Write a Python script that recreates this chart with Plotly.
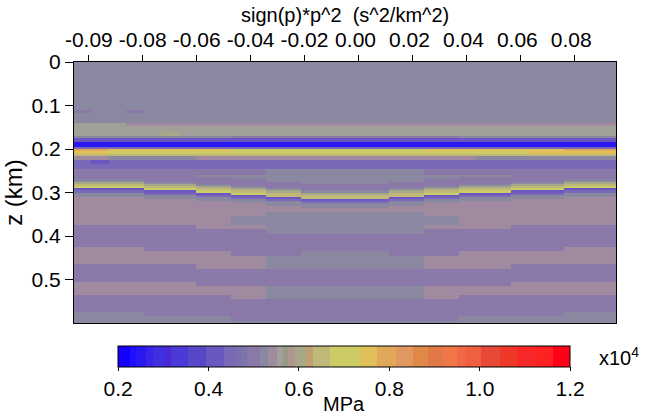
import plotly.graph_objects as go

# axes
x_ticks = [-0.10, -0.08, -0.06, -0.04, -0.02, 0.00, 0.02, 0.04, 0.06, 0.08]
x_labels = ["-0.09", "-0.08", "-0.06", "-0.04", "-0.02", "0.00", "0.02", "0.04", "0.06", "0.08"]
z_ticks = [0, 0.1, 0.2, 0.3, 0.4, 0.5]
z_labels = ["0", "0.1", "0.2", "0.3", "0.4", "0.5"]
cb_ticks = [0.2, 0.4, 0.6, 0.8, 1.0, 1.2]

# 31 traces, first trace centre and spacing on the p axis
trace_x0 = -0.10226
trace_dx = 0.006487

# amplitude levels (x10^4 MPa) used by the row codes below
levels = {
    "B": 0.24, "b": 0.43, "q": 0.455, "p": 0.495, "g": 0.515, "G": 0.525,
    "r": 0.54, "h": 0.56, "k": 0.60, "K": 0.645, "y": 0.70, "Y": 0.755, "o": 0.795,
}

# layer tops (km) and one code per trace for each layer
layer_tops = [
    0.000, 0.110, 0.118, 0.140, 0.147, 0.160, 0.170, 0.175, 0.184, 0.195,
    0.199, 0.205, 0.211, 0.215, 0.225, 0.235, 0.245,
    0.260, 0.265, 0.270, 0.275, 0.280, 0.285, 0.290, 0.295, 0.300, 0.305,
    0.310, 0.315, 0.320, 0.325, 0.330, 0.335, 0.340,
    0.345, 0.355, 0.365, 0.375, 0.385, 0.395, 0.405, 0.415, 0.425, 0.435,
    0.445, 0.455, 0.465, 0.475, 0.485, 0.495, 0.505, 0.515, 0.525, 0.535,
    0.545, 0.555, 0.565, 0.575, 0.585, 0.595,
]
z_bottom = 0.6

layer_rows = [
    "GGGG GGG GG GG GG GGGGG GG GG GGG GGG GGG",
    "pGGp GGG GG GG GG GGGGG GG GG GGG GGG GGG",
    "GGGG GGG GG GG GG GGGGG GG GG GGG GGG GGG",
    "hhhr rrr rr rr rr rrrrr rr rr rrr rrr rrr",
    "hhhh hhh hh hh hh hhhhh hh hh hhh hhh hhh",
    "hhhh hkh hh hh hh hhhhh hh hh hhh hhh hhh",
    "gggg ggg gg pp pp ppppp pp pp ggg ggg ggg",
    "bbbb bbb bb bb bb bbbbb bb bb bbb bbb bbb",
    "BBBB BBB BB BB BB BBBBB BB BB BBB BBB BBB",
    "qqqq qqq qq qq qq qqqqq qq qq qqq qqq qqq",
    "ooYY YYY YY yy yy yyyyy yy YY YYY YYY ooo",
    "YYyy yyy yy yy yy yyyyy yy yy yyy yYY YYY",
    "KKKK KKK KK KK KK KKKKK KK KK KKK KKK KKK",
    "rrgg ggg rr rr rr rrrrr rr rr rgg ggg ggg",
    "qbqq qqq qq qq qq qqqqq qq qq qqq qqq qqq",
    "qqqq qqq qq qq qq qqqqq qq qq qqq qqq qqq",
    "pppp ppp pp pp gg GGGGG gg pp ppp ppp ppp",
    "pppp ppp gg gg gg ggggg gg gg ggg ppp ppp",
    "pppp ppp pp gg gg ggggg gg gg ppp ppp ppp",
    "gggg ppp pp pp gg ggggg gg pp ppp ppp ggg",
    "kkkk ggg pp pp pp ggggg pp pp ppp ggg kkk",
    "KKKK kkk gg pp pp ppppp pp pp ggg kkk KKK",
    "yyyy KKK kk gg pp ppppp pp gg kkk KKK yyy",
    "bbbb yyy KK kk gg ppppp gg kk KKK yyy bbb",
    "qqqq bbb yy KK kk ggggg kk KK yyy bbb qqq",
    "gggg qqq bb yy KK kkkkk KK yy bbb qqq ggg",
    "gggg ggg qq bb KK KKKKK KK bb qqq ggg ggg",
    "rrrr ggg gg qq bb KKKKK bb qq ggg ggg rrr",
    "rrrr rrr gg gg qq bbbbb qq gg ggg rrr rrr",
    "rrrr rrr rr gg gg qqqqq gg gg rrr rrr rrr",
    "rrrr rrr rr rr gg ggggg gg rr rrr rrr rrr",
    "rrrr rrr rr rr rr ggggg rr rr rrr rrr rrr",
    "rrrr rrr rr rr rr rrrrr rr rr rrr rrr rrr",
    "rrrr rrr rr rr rr rrrrr rr rr rrr rrr rrr",
    "rrrr rrr rr rr GG GGGGG GG rr rrr rrr rrr",
    "rrrr rrr rr GG GG GGGGG GG GG rrr rrr rrr",
    "rrrr rrr rr GG GG GGGGG GG GG rrr rrr rrr",
    "pppp ppp rr rr GG GGGGG GG rr rrr ppp ppp",
    "pppp ppp pp pp GG GGGGG GG pp ppp ppp ppp",
    "pppp ppp pp pp pp ppppp pp pp ppp ppp ppp",
    "pppp ppp pp pp pp ppppp pp pp ppp ppp ppp",
    "pppp ppp pp pp pp ppppp pp pp ppp ppp ppp",
    "rrrr ppp pp pp pp ppppp pp pp ppp ppp rrr",
    "rrrr rrr rr pp pp GGGGG pp pp rrr rrr rrr",
    "rrrr rrr rr rr GG GGGGG GG rr rrr rrr rrr",
    "rrrr rrr rr rr GG GGGGG GG rr rrr rrr rrr",
    "pppp ppp rr rr GG GGGGG GG rr rrr ppp ppp",
    "pppp ppp pp pp pp ppppp pp pp ppp ppp ppp",
    "pppp ppp pp pp pp ppppp pp pp ppp ppp ppp",
    "pppp ppp pp pp pp ppppp pp pp ppp ppp ppp",
    "rrrr rrr pp pp pp ppppp pp pp ppp rrr rrr",
    "rrrr rrr rr rr GG GGGGG GG rr rrr rrr rrr",
    "rrrr rrr rr rr GG GGGGG GG rr rrr rrr rrr",
    "pppp ppp pp rr GG GGGGG GG rr ppp ppp ppp",
    "pppp ppp pp pp pp ppppp pp pp ppp ppp ppp",
    "pppp ppp pp pp pp ppppp pp pp ppp ppp ppp",
    "pppp ppp pp pp pp ppppp pp pp ppp ppp ppp",
    "gggg ppp pp pp pp ppppp pp pp ppp ppp ggg",
    "GGGG GGG GG pp pp ppppp pp pp GGG GGG GGG",
    "GGGG GGG GG GG GG GGGGG GG GG GGG GGG GGG",
]

# blocky colour table (start fraction, colour)
cb_starts = [0.000, 0.026, 0.039, 0.061, 0.077, 0.103, 0.117, 0.155, 0.194, 0.234,
             0.258, 0.275, 0.286, 0.314, 0.332, 0.351, 0.364, 0.376, 0.391, 0.417,
             0.432, 0.469, 0.535, 0.572, 0.616, 0.653, 0.686, 0.719, 0.749, 0.767,
             0.804, 0.845, 0.882, 0.926, 0.963]
cb_colors = ["#1400ff", "#1e10ff", "#2a18f0", "#3a22e6", "#3c30e0", "#4a28d8", "#4a3ad8",
             "#5848c8", "#6a58c0", "#7a68b8", "#7a70b0", "#7878a8", "#8a78a8", "#8a88a0",
             "#a08aa0", "#a0a098", "#989888", "#b09890", "#a8a888", "#c0a070", "#c0b878",
             "#cccc66", "#e0c058", "#e0a858", "#e09860", "#e08848", "#e07848", "#f07848",
             "#f06848", "#f06040", "#e84838", "#f03828", "#f82828", "#ff2020", "#ff0018"]

colorscale = []
for i, c in enumerate(cb_colors):
    hi = cb_starts[i + 1] if i + 1 < len(cb_starts) else 1.0
    colorscale += [[cb_starts[i], c], [hi, c]]

z = [[levels[ch] for ch in row.replace(" ", "")] for row in layer_rows]
z_edges = layer_tops + [z_bottom]

# positive labels sit a little left of their ticks in the original
x_text = [t if t.startswith("-") else t + "\u00a0" for t in x_labels]

FONT = "Liberation Sans, Arial, sans-serif"
FS = 20
TFS = 21

fig = go.Figure(go.Heatmap(
    z=z, x0=trace_x0, dx=trace_dx, y=z_edges,
    zmin=0.2, zmax=1.2, colorscale=colorscale,
    colorbar=dict(
        orientation="h", x=0.4985, xanchor="center", y=-0.087, yanchor="top",
        len=452, lenmode="pixels", thickness=21, thicknessmode="pixels",
        xpad=0, ypad=0, outlinewidth=1, outlinecolor="black",
        ticks="outside", ticklen=4, tickcolor="black",
        tickvals=cb_ticks, tickformat=".1f", tickangle=0,
        tickfont=dict(size=TFS, color="black"),
    ),
    hoverinfo="skip",
))

fig.add_annotation(
    x=0.4985, y=-0.31, xref="paper", yref="paper", xanchor="center", yanchor="middle",
    text="MPa", showarrow=False, font=dict(size=FS, color="black"),
)
fig.add_annotation(
    x=0.965, y=-0.128, xref="paper", yref="paper", xanchor="left", yanchor="middle",
    text="x10<sup>4</sup>", showarrow=False, font=dict(size=FS, color="black"),
)
fig.add_annotation(
    x=0.5, y=1.18, xref="paper", yref="paper", xanchor="center", yanchor="middle",
    text="sign(p)*p^2  (s^2/km^2)", showarrow=False, font=dict(size=FS, color="black"),
)

fig.update_layout(
    width=651, height=418,
    template="none",
    margin=dict(l=74, r=35, t=62, b=95),
    font=dict(family=FONT, size=FS, color="black"),
    paper_bgcolor="white", plot_bgcolor="white",
    xaxis=dict(
        side="top", range=[-0.1055, 0.0955],
        tickvals=x_ticks, ticktext=x_text, tickfont=dict(size=TFS), tickangle=0,
        ticks="outside", ticklen=6, tickcolor="black",
        showline=True, mirror=True, linecolor="black", linewidth=1,
        showgrid=False, zeroline=False, automargin=False,
    ),
    yaxis=dict(
        range=[0.6, 0], tickvals=z_ticks, ticktext=z_labels, tickfont=dict(size=TFS),
        ticks="outside", ticklen=8, tickcolor="black",
        showline=True, mirror=True, linecolor="black", linewidth=1,
        showgrid=False, zeroline=False, automargin=False,
        title=dict(text="z (km)", standoff=2),
    ),
)

# drop the default page margin so the figure sits at the window's corner
fig.write_html(
    "out.html",
    config={"displayModeBar": False},
    post_script="document.body.style.margin='0';",
)
